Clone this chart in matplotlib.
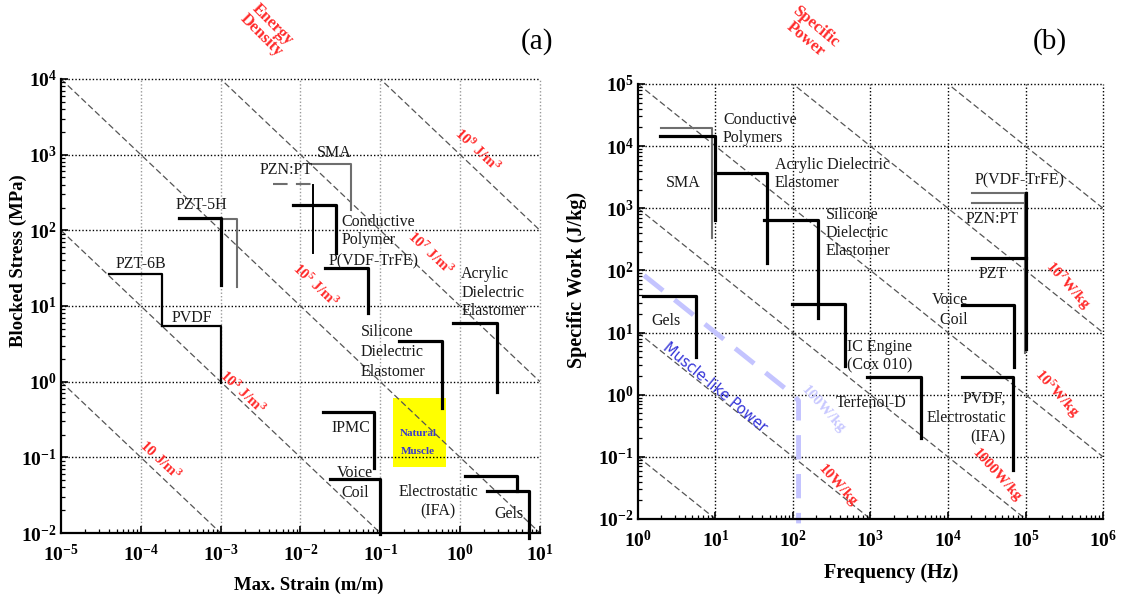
import numpy as np
import matplotlib
matplotlib.use("Agg")
import matplotlib.pyplot as plt
from matplotlib.patches import Rectangle
from matplotlib.ticker import FuncFormatter

plt.rcParams["font.family"] = ["Liberation Serif", "DejaVu Serif"]
plt.rcParams["mathtext.fontset"] = "custom"
plt.rcParams["mathtext.rm"] = "Liberation Serif:bold"
plt.rcParams["mathtext.bf"] = "Liberation Serif:bold"
plt.rcParams["mathtext.it"] = "Liberation Serif:bold"

# ---- panel (a): blocked stress vs max strain ----
strain_pzt6b = [4.0e-5, 1.84e-4, 1.84e-4]
stress_pzt6b = [26.5, 26.5, 5.4]
strain_pvdf = [1.84e-4, 1.0e-3, 1.0e-3]
stress_pvdf = [5.4, 5.4, 0.96]
strain_pzt5h = [3.0e-4, 1.0e-3, 1.0e-3]
stress_pzt5h = [146, 146, 19]
strain_pzt5h_b = [3.0e-4, 1.6e-3, 1.6e-3]
stress_pzt5h_b = [141, 141, 18]
strain_pznpt = [4.5e-3, 0.0144]
stress_pznpt = [409, 409]
strain_pznpt_v = [0.0144, 0.0144]
stress_pznpt_v = [397, 50]
strain_sma = [0.0132, 0.043, 0.043]
stress_sma = [753, 753, 186]
strain_cp = [8.0e-3, 0.0279, 0.0279]
stress_cp = [216, 216, 50]
strain_trfe = [0.0203, 0.070, 0.070]
stress_trfe = [31.8, 31.8, 8.1]
strain_silicone = [0.171, 0.593, 0.593]
stress_silicone = [3.45, 3.45, 0.449]
strain_acrylic = [0.81, 2.9, 2.9]
stress_acrylic = [5.96, 5.96, 0.73]
strain_ipmc = [0.0191, 0.083, 0.083]
stress_ipmc = [0.397, 0.397, 0.072]
strain_voice = [0.0234, 0.1, 0.1]
stress_voice = [0.052, 0.052, 0.0098]
strain_ifa = [1.15, 5.15, 5.15]
stress_ifa = [0.0567, 0.0567, 0.0359]
strain_gels = [2.17, 7.3, 7.3]
stress_gels = [0.0359, 0.0359, 0.0087]
muscle_strain = [0.144, 0.665]
muscle_stress = [0.0746, 0.61]
energy_products = [1e-5, 1e-3, 1e-1, 1e1, 1e3]

# ---- panel (b): specific work vs frequency ----
freq_cpoly = [1.98, 9.0, 9.0]
work_cpoly = [19600, 19600, 333]
freq_sma = [1.92, 9.86, 9.86]
work_sma = [14600, 14600, 647]
freq_acrylic = [9.86, 46, 46]
work_acrylic = [3700, 3700, 132]
freq_silicone = [42, 210, 210]
work_silicone = [647, 647, 17.1]
freq_ic = [97, 469, 469]
work_ic = [28.8, 28.8, 2.9]
freq_gels = [1.16, 5.6, 5.6]
work_gels = [38.7, 38.7, 4.04]
freq_terfenol = [901, 4483, 4483]
work_terfenol = [1.93, 1.93, 0.2]
freq_pvdf = [15170, 69000, 69000]
work_pvdf = [1.93, 1.93, 0.061]
freq_voice = [15170, 71100, 71100]
work_voice = [27.8, 27.8, 2.79]
freq_trfe = [20400, 98600, 98600]
work_trfe = [1760, 1760, 4.7]
freq_pznpt = [20400, 96000]
work_pznpt = [1216, 1216]
freq_pzt = [20400, 1.01e5, np.nan, 1.01e5, 1.01e5]
work_pzt = [158, 158, np.nan, 1760, 5.4]
freq_muscle = [1.2, 100, 118, 118]
work_muscle = [83, 1.0, 0.8, 0.0085]
power_products = [1e-1, 1e1, 1e3, 1e5, 1e7, 1e9]

BLACK_LW = 2.3
GRAY_LW = 1.5
GRAY = "#6e6e6e"
RED = "#ff2a2a"

fig = plt.figure(figsize=(11.23, 5.97), dpi=100)
ax1 = fig.add_axes([0.0543, 0.1072, 0.4265, 0.7605])
ax2 = fig.add_axes([0.5681, 0.1307, 0.4141, 0.7286])

pow_fmt = FuncFormatter(lambda v, pos: r"$\mathbf{10^{%d}}$" % round(np.log10(v)))


def setup(ax, xlim, ylim, vgrid_color):
    ax.set_xscale("log")
    ax.set_yscale("log")
    ax.set_xlim(*xlim)
    ax.set_ylim(*ylim)
    for s in ["top", "right"]:
        ax.spines[s].set_visible(False)
    for s in ["left", "bottom"]:
        ax.spines[s].set_linewidth(1.6)
    ax.tick_params(which="both", direction="in", labelsize=14)
    ax.tick_params(which="major", length=5, width=1.2)
    ax.tick_params(which="minor", length=3, width=0.9)
    ax.tick_params(axis="x", pad=8)
    ax.tick_params(axis="y", pad=3)
    ax.set_xticks([10.0 ** k for k in range(int(np.log10(xlim[0])), int(np.log10(xlim[1])) + 1)])
    ax.set_yticks([10.0 ** k for k in range(int(np.log10(ylim[0])), int(np.log10(ylim[1])) + 1)])
    ax.xaxis.set_major_formatter(pow_fmt)
    ax.yaxis.set_major_formatter(pow_fmt)
    for t in ax.get_xticks()[1:]:
        ax.axvline(t, color=vgrid_color, lw=1.0, ls=(0, (1, 1.5)), clip_on=False, zorder=1)
    for t in ax.get_yticks()[1:]:
        ax.axhline(t, color="black", lw=1.0, ls=(0, (1, 1.5)), clip_on=False, zorder=1)


def diagonals(ax, products, xlim):
    xs = np.geomspace(xlim[0], xlim[1], 200)
    for p in products:
        ax.plot(xs, p / xs, color="#555555", lw=0.9, ls=(0, (5, 2.5)), zorder=1)


# ---------------- panel (a) ----------------
xa, ya = (1e-5, 1e1), (1e-2, 1e4)
setup(ax1, xa, ya, "#9a9a9a")
diagonals(ax1, energy_products, xa)

ax1.add_patch(Rectangle((muscle_strain[0], muscle_stress[0]),
                        muscle_strain[1] - muscle_strain[0],
                        muscle_stress[1] - muscle_stress[0],
                        facecolor="#ffff00", edgecolor="none", zorder=0.5))

ax1.plot(strain_pzt5h_b, stress_pzt5h_b, color=GRAY, lw=GRAY_LW)
ax1.plot(strain_sma, stress_sma, color=GRAY, lw=GRAY_LW)
ax1.plot(strain_pznpt, stress_pznpt, color=GRAY, lw=GRAY_LW, ls=(0, (7, 4)))
for sx, sy, lw in [(strain_pzt6b, stress_pzt6b, 1.6), (strain_pvdf, stress_pvdf, 1.6),
                   (strain_pzt5h, stress_pzt5h, BLACK_LW), (strain_pznpt_v, stress_pznpt_v, 1.4),
                   (strain_cp, stress_cp, BLACK_LW), (strain_trfe, stress_trfe, BLACK_LW),
                   (strain_silicone, stress_silicone, BLACK_LW), (strain_acrylic, stress_acrylic, BLACK_LW),
                   (strain_ipmc, stress_ipmc, BLACK_LW), (strain_voice, stress_voice, BLACK_LW),
                   (strain_ifa, stress_ifa, BLACK_LW), (strain_gels, stress_gels, BLACK_LW)]:
    ax1.plot(sx, sy, color="black", lw=lw, clip_on=False, zorder=3)

lab = dict(fontsize=11.5, color="#1a1a1a", zorder=4)
ax1.text(1.0e-4, 36, "PZT-6B", ha="center", va="center", **lab)
ax1.text(5.7e-4, 216, "PZT-5H", ha="center", va="center", **lab)
ax1.text(4.4e-4, 6.9, "PVDF", ha="center", va="center", **lab)
ax1.text(6.6e-3, 627, "PZN:PT", ha="center", va="center", **lab)
ax1.text(0.0263, 1050, "SMA", ha="center", va="center", **lab)
ax1.text(0.033, 98, "Conductive\nPolymer", ha="left", va="center", linespacing=1.2, **lab)
ax1.text(0.0228, 39, "P(VDF-TrFE)", ha="left", va="center", **lab)
ax1.text(0.0573, 2.47, "Silicone\nDielectric\nElastomer", ha="left", va="center", linespacing=1.3, **lab)
ax1.text(1.03, 14.9, "Acrylic\nDielectric\nElastomer", ha="left", va="center", linespacing=1.2, **lab)
ax1.text(0.043, 0.244, "IPMC", ha="center", va="center", **lab)
ax1.text(0.048, 0.0458, "Voice\nCoil", ha="center", va="center", linespacing=1.3, **lab)
ax1.text(0.53, 0.0257, "Electrostatic\n(IFA)", ha="center", va="center", linespacing=1.3, **lab)
ax1.text(4.1, 0.0178, "Gels", ha="center", va="center", **lab)
ax1.text(0.296, 0.155, "Natural\n\nMuscle", ha="center", va="center", fontsize=8,
         color="#3a3acc", fontweight="bold", linespacing=1.0, zorder=4)

red = dict(color=RED, fontsize=11, fontweight="bold", rotation=-43,
           ha="center", va="center", rotation_mode="anchor", zorder=4)
ax1.text(1.63, 1150, r"10$^{9}$ J/m$^{3}$", **red)
ax1.text(0.42, 50, r"10$^{7}$ J/m$^{3}$", **red)
ax1.text(0.0152, 19, r"10$^{5}$ J/m$^{3}$", **red)
ax1.text(1.9e-3, 0.73, r"10$^{3}$ J/m$^{3}$", **red)
ax1.text(1.74e-4, 0.092, r"10 J/m$^{3}$", **red)

# ---------------- panel (b) ----------------
xb, yb = (1e0, 1e6), (1e-2, 1e5)
setup(ax2, xb, yb, "black")
diagonals(ax2, power_products, xb)

ax2.plot(freq_muscle, work_muscle, color="#c4c4ff", lw=3.5, ls=(0, (5, 3)),
         clip_on=False, zorder=2, solid_joinstyle="round")
ax2.plot(freq_cpoly, work_cpoly, color=GRAY, lw=GRAY_LW)
ax2.plot(freq_trfe, work_trfe, color=GRAY, lw=GRAY_LW)
ax2.plot(freq_pznpt, work_pznpt, color=GRAY, lw=GRAY_LW)
for fx, wy in [(freq_sma, work_sma), (freq_acrylic, work_acrylic), (freq_silicone, work_silicone),
               (freq_ic, work_ic), (freq_gels, work_gels), (freq_terfenol, work_terfenol),
               (freq_pvdf, work_pvdf), (freq_voice, work_voice), (freq_pzt, work_pzt)]:
    ax2.plot(fx, wy, color="black", lw=BLACK_LW, zorder=3)

ax2.text(12.5, 18900, "Conductive\nPolymers", ha="left", va="center", linespacing=1.2, **lab)
ax2.text(3.81, 2550, "SMA", ha="center", va="center", **lab)
ax2.text(58.6, 3560, "Acrylic Dielectric\nElastomer", ha="left", va="center", linespacing=1.2, **lab)
ax2.text(267, 400, "Silicone\nDielectric\nElastomer", ha="left", va="center", linespacing=1.2, **lab)
ax2.text(84900, 2850, "P(VDF-TrFE)", ha="center", va="center", **lab)
ax2.text(37000, 672, "PZN:PT", ha="center", va="center", **lab)
ax2.text(38100, 87.5, "PZT", ha="center", va="center", **lab)
ax2.text(10600, 23, "Voice\n  Coil", ha="center", va="center", linespacing=1.3, **lab)
ax2.text(497, 4.2, "IC Engine\n(Cox 010)", ha="left", va="center", linespacing=1.2, **lab)
ax2.text(359, 0.735, "Terfenol-D", ha="left", va="center", **lab)
ax2.text(56000, 0.42, "PVDF,\nElectrostatic\n(IFA)", ha="right", va="center", linespacing=1.3, **lab)
ax2.text(2.30, 15.3, "Gels", ha="center", va="center", **lab)
ax2.text(9.86, 1.33, "Muscle-like Power", ha="center", va="center", rotation=-40,
         rotation_mode="anchor", fontsize=10.5, color="#3434d8", family="DejaVu Sans", zorder=4)

redb = dict(red)
redb["rotation"] = -48
ax2.text(244, 0.57, "100W/kg", **{**redb, "color": "#c8c8ff"})
ax2.text(381, 0.035, "10W/kg", **redb)
ax2.text(42900, 0.051, "1000W/kg", **redb)
ax2.text(2.55e5, 1.06, r"10$^{5}$W/kg", **redb)
ax2.text(3.53e5, 58, r"10$^{7}$W/kg", **redb)

# ---------------- titles / axis labels ----------------
fig.text(0.238, 0.950, "Energy\nDensity", color=RED, fontsize=12, fontweight="bold",
         rotation=-45, ha="center", va="center", linespacing=1.0)
fig.text(0.722, 0.945, "Specific\nPower", color=RED, fontsize=12, fontweight="bold",
         rotation=-40, ha="center", va="center", linespacing=1.0)
fig.text(0.478, 0.930, "(a)", fontsize=21, ha="center", va="center")
fig.text(0.935, 0.930, "(b)", fontsize=21, ha="center", va="center")

fig.text(0.016, 0.563, "Blocked Stress (MPa)", rotation=90, fontsize=13.5,
         fontweight="bold", ha="center", va="center")
fig.text(0.275, 0.02, "Max. Strain (m/m)", fontsize=13.5, fontweight="bold",
         ha="center", va="center")
fig.text(0.514, 0.531, "Specific Work (J/kg)", rotation=90, fontsize=14.5,
         fontweight="bold", ha="center", va="center")
fig.text(0.794, 0.04, "Frequency (Hz)", fontsize=14.5, fontweight="bold",
         ha="center", va="center")

fig.savefig("out.png", dpi=100)
